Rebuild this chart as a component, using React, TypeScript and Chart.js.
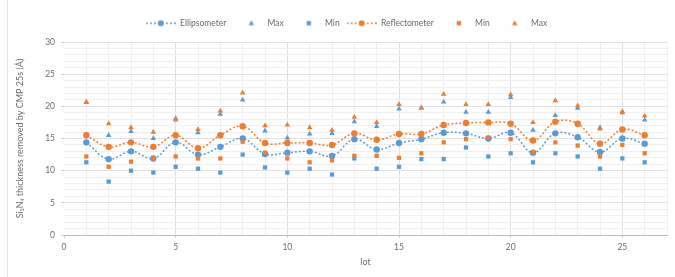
import React, { useEffect, useRef } from 'react';
import { Chart, registerables } from 'chart.js';

Chart.register(...registerables);

// ---------- data ----------
const lots = [1, 2, 3, 4, 5, 6, 7, 8, 9, 10, 11, 12, 13, 14, 15, 16, 17, 18, 19, 20, 21, 22, 23, 24, 25, 26];

const ellMean = [14.4, 11.8, 13.0, 11.9, 14.4, 12.5, 13.7, 15.0, 12.6, 12.8, 13.0, 12.3, 14.9, 13.3, 14.3, 14.9, 15.9, 15.8, 15.0, 15.9, 12.8, 15.8, 15.2, 12.9, 15.0, 14.2];
const ellMax = [20.6, 15.5, 16.1, 15.0, 18.1, 15.9, 18.8, 21.0, 16.2, 15.1, 15.7, 15.8, 17.6, 16.9, 19.6, 19.8, 20.7, 19.1, 19.1, 21.4, 16.3, 18.6, 19.7, 16.7, 19.0, 17.9];
const ellMin = [11.3, 8.3, 10.0, 9.7, 10.6, 10.3, 9.7, 12.5, 10.5, 9.7, 10.3, 9.4, 11.9, 10.3, 10.6, 11.8, 11.8, 13.6, 12.2, 12.7, 11.3, 12.7, 12.2, 10.3, 11.9, 11.3];

const refMean = [15.5, 13.7, 14.4, 13.7, 15.5, 13.5, 15.5, 16.9, 14.3, 14.3, 14.3, 14.0, 15.8, 14.8, 15.7, 15.7, 17.1, 17.4, 17.5, 17.3, 14.7, 17.6, 17.3, 14.2, 16.4, 15.5];
const refMin = [12.2, 10.6, 11.4, 11.9, 12.2, 11.9, 11.9, 14.5, 12.8, 11.9, 11.3, 11.6, 12.3, 12.3, 12.0, 12.7, 14.4, 14.9, 15.1, 14.9, 12.9, 14.4, 13.9, 12.2, 14.0, 12.7];
const refMax = [20.7, 17.3, 16.7, 16.0, 17.9, 16.4, 19.3, 22.1, 17.0, 17.1, 16.7, 16.3, 18.3, 17.5, 20.3, 19.7, 21.9, 20.3, 20.3, 21.8, 17.5, 20.9, 20.1, 16.5, 19.2, 18.5];

const seriesLabels = ['Ellipsometer', 'Max', 'Min', 'Reflectometer', 'Min', 'Max'];
const xTitle = 'lot';
const yTitle = 'Si\u2083N\u2084 thickness removed by CMP 25s (\u00C5)';

const BLUE = '#5B9BD5';
const ORANGE = '#ED7D31';
const TEXT = '#6b6b6b';
const FONT = 'Lato, "Open Sans", sans-serif';

// ---------- legend icons ----------
const ICON_W = 30;
const ICON_H = 9;

function lineIcon(color: string) {
  const c = document.createElement('canvas');
  c.width = ICON_W;
  c.height = ICON_H;
  const g = c.getContext('2d')!;
  g.strokeStyle = color;
  g.lineWidth = 1.5;
  g.setLineDash([2, 2]);
  g.beginPath();
  g.moveTo(0, ICON_H / 2);
  g.lineTo(ICON_W, ICON_H / 2);
  g.stroke();
  g.setLineDash([]);
  g.fillStyle = color;
  g.beginPath();
  g.arc(ICON_W / 2, ICON_H / 2, 3, 0, Math.PI * 2);
  g.fill();
  return c;
}

function shapeIcon(color: string, shape: 'triangle' | 'rect') {
  const c = document.createElement('canvas');
  c.width = ICON_W;
  c.height = ICON_H;
  const g = c.getContext('2d')!;
  g.fillStyle = color;
  const cx = 18;
  const cy = ICON_H / 2;
  g.beginPath();
  if (shape === 'triangle') {
    g.moveTo(cx, cy - 3);
    g.lineTo(cx + 2.8, cy + 2);
    g.lineTo(cx - 2.8, cy + 2);
    g.closePath();
  } else {
    g.rect(cx - 2.2, cy - 2.2, 4.4, 4.4);
  }
  g.fill();
  return c;
}

const layoutFix = {
  id: 'layoutFix',
  beforeLayout(chart: any) {
    const lg = chart.legend;
    if (lg && !lg._fixed) {
      const orig = lg.fit;
      lg.fit = function () {
        orig.call(this);
        this.height = 30;
      };
      lg._fixed = true;
    }
  },
  afterLayout(chart: any) {
    const lg = chart.legend;
    if (lg) {
      lg.left += 13;
      lg.right += 13;
    }
  },
};

export default function App() {
  const ref = useRef<HTMLCanvasElement>(null);

  useEffect(() => {
    const pts = (arr: number[]) => arr.map((y, i) => ({ x: lots[i], y }));
    const icons = [
      lineIcon(BLUE),
      shapeIcon(BLUE, 'triangle'),
      shapeIcon(BLUE, 'rect'),
      lineIcon(ORANGE),
      shapeIcon(ORANGE, 'rect'),
      shapeIcon(ORANGE, 'triangle'),
    ];

    const meanSet = (label: string, data: number[], color: string, order: number) => ({
      label,
      data: pts(data),
      showLine: true,
      borderColor: color,
      backgroundColor: color,
      borderWidth: 1.5,
      borderDash: [2, 2],
      tension: 0.4,
      pointStyle: 'circle',
      pointRadius: 3.2,
      pointBorderWidth: 0,
      pointBackgroundColor: color,
      order,
    });
    const markSet = (label: string, data: number[], color: string, style: string, order: number) => ({
      label,
      data: pts(data),
      showLine: false,
      borderColor: color,
      backgroundColor: color,
      pointStyle: style,
      pointRadius: style === 'rect' ? 3 : 3.2,
      pointBorderWidth: 0,
      pointBackgroundColor: color,
      order,
    });

    const chart = new Chart(ref.current!, {
      type: 'scatter',
      data: {
        datasets: [
          meanSet(seriesLabels[0], ellMean, BLUE, 1),
          markSet(seriesLabels[1], ellMax, BLUE, 'triangle', 1),
          markSet(seriesLabels[2], ellMin, BLUE, 'rect', 1),
          meanSet(seriesLabels[3], refMean, ORANGE, 0),
          markSet(seriesLabels[4], refMin, ORANGE, 'rect', 0),
          markSet(seriesLabels[5], refMax, ORANGE, 'triangle', 0),
        ] as any,
      },
      options: {
        responsive: false,
        animation: false,
        layout: { padding: { top: 12, right: 8, bottom: 0, left: 0 } },
        plugins: {
          tooltip: { enabled: false },
          legend: {
            position: 'top',
            labels: {
              usePointStyle: true,
              pointStyleWidth: ICON_W,
              padding: 7,
              color: TEXT,
              font: { family: FONT, size: 8.5 },
              sort: (a: any, b: any) => a.datasetIndex - b.datasetIndex,
              generateLabels: (ch: any) => {
                const items = Chart.defaults.plugins.legend.labels.generateLabels(ch);
                return items.map((it: any) => ({
                  ...it,
                  pointStyle: icons[it.datasetIndex],
                  fontColor: TEXT,
                }));
              },
            },
          },
        },
        scales: {
          x: {
            type: 'linear',
            min: 0,
            max: 27,
            afterFit: (s: any) => {
              s.height = 42;
            },
            border: { display: true, color: '#bfbfbf', width: 1 },
            grid: {
              color: (c: any) =>
                c.tick && c.tick.value === 0 ? 'rgba(0,0,0,0)' : c.tick && c.tick.value % 5 === 0 ? '#dedede' : '#f0f0f0',
              tickColor: (c: any) => (c.tick && c.tick.value % 5 === 0 ? '#cfcfcf' : 'rgba(0,0,0,0)'),
              tickLength: 3,
            },
            ticks: {
              stepSize: 1,
              autoSkip: false,
              maxRotation: 0,
              padding: 4,
              color: TEXT,
              font: { family: FONT, size: 8.5 },
              callback: (v: any) => (Number(v) % 5 === 0 ? String(v) : ''),
            },
            title: {
              display: true,
              text: xTitle,
              color: TEXT,
              font: { family: FONT, size: 9 },
              padding: { top: 0, bottom: 10 },
            },
          },
          y: {
            type: 'linear',
            min: 0,
            max: 30,
            afterFit: (s: any) => {
              s.width = 64;
            },
            border: { display: false },
            grid: {
              color: (c: any) => (c.tick && c.tick.value % 5 === 0 ? '#e2e2e2' : '#efefef'),
              tickColor: (c: any) => (c.tick && c.tick.value % 5 === 0 ? '#cfcfcf' : 'rgba(0,0,0,0)'),
              tickLength: 3,
            },
            ticks: {
              stepSize: 1,
              autoSkip: false,
              maxTicksLimit: 100,
              padding: 6,
              color: TEXT,
              font: { family: FONT, size: 8.5 },
              callback: (v: any) => (Number(v) % 5 === 0 ? String(v) : ''),
            },
            title: {
              display: true,
              text: yTitle,
              color: TEXT,
              font: { family: FONT, size: 9 },
              padding: { top: 15, bottom: 0 },
            },
          },
        },
      },
      plugins: [layoutFix],
    });

    return () => chart.destroy();
  }, []);

  return (
    <div style={{ position: 'fixed', left: 0, top: 0, width: 675, height: 277, background: '#fff' }}>
      <div style={{ position: 'absolute', left: 7, top: 0, width: 1, height: 277, background: '#e4e4e4' }} />
      <canvas ref={ref} width={675} height={277} style={{ display: 'block', position: 'absolute', left: 0, top: 0 }} />
    </div>
  );
}
